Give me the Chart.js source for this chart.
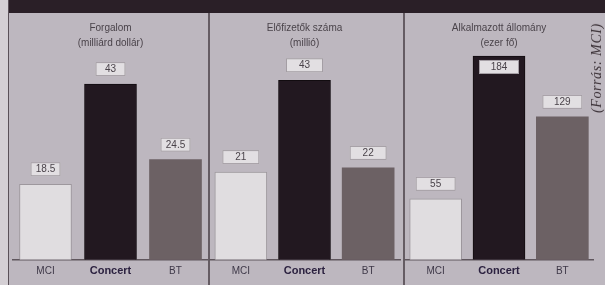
<!DOCTYPE html>
<html>
<head>
<meta charset="utf-8">
<script src="https://cdn.jsdelivr.net/npm/chart.js@4"></script>
<style>
  html, body { margin: 0; padding: 0; }
  body { width: 605px; height: 285px; background: #bdb7bf; position: relative; overflow: hidden; }
  .strip { position: absolute; left: 0; top: 0; width: 8px; height: 285px; background: #d4cfd4; border-right: 1.5px solid #5a5058; }
  .band { position: absolute; left: 9px; top: 0; width: 596px; height: 13px; background: #2a1f27; }
  .panel { position: absolute; top: 13px; height: 272px; }
  .divider { position: absolute; top: 13px; width: 1.5px; height: 272px; background: #655c63; }
  .source { position: absolute; left: 597px; top: 68px; transform: translate(-50%, -50%) rotate(-90deg);
            font: italic 14px "Liberation Serif", serif; letter-spacing: 0.6px; color: #3a3036; white-space: nowrap; }
</style>
</head>
<body>
<div class="strip"></div>
<div class="band"></div>
<div class="panel" style="left:9px;width:199px"><canvas id="c1"></canvas></div>
<div class="divider" style="left:208px"></div>
<div class="panel" style="left:209px;width:194px"><canvas id="c2"></canvas></div>
<div class="divider" style="left:403px"></div>
<div class="panel" style="left:404px;width:190px"><canvas id="c3"></canvas></div>
<div class="source">(Forrás: MCI)</div>
<script>
// companies
var companies = ["MCI", "Concert", "BT"];
// Forgalom (milliárd dollár)
var turnover = [18.5, 43, 24.5];
// Előfizetők száma (millió)
var subscribers = [21, 43, 22];
// Alkalmazott állomány (ezer fő)
var employees = [55, 184, 129];

var fontFamily = '"Liberation Sans", Arial, sans-serif';

// white number boxes above the bars (or inside the bar when there is no room)
var valueBoxes = {
  id: "valueBoxes",
  afterDatasetsDraw: function (chart, args, opts) {
    var ctx = chart.ctx;
    var meta = chart.getDatasetMeta(0);
    var data = chart.data.datasets[0].data;
    ctx.save();
    ctx.font = "10px " + fontFamily;
    ctx.textAlign = "center";
    ctx.textBaseline = "middle";
    meta.data.forEach(function (bar, i) {
      var w = opts.boxWidth, h = 14, gap = 8;
      var top = bar.y - gap - h;
      if (top < chart.chartArea.top) top = bar.y + 4;
      ctx.fillStyle = "#e2dfe2";
      ctx.strokeStyle = "#a49ea4";
      ctx.lineWidth = 1;
      ctx.fillRect(bar.x - w / 2, top, w, h);
      ctx.strokeRect(bar.x - w / 2 + 0.5, top + 0.5, w - 1, h - 1);
      ctx.fillStyle = "#4a434a";
      ctx.fillText(String(data[i]), bar.x, top + h / 2 + 0.5);
    });
    ctx.restore();
  }
};

function makePanel(id, title, values, yMax, boxWidth, padLeft, padRight) {
  new Chart(document.getElementById(id), {
    type: "bar",
    data: {
      labels: companies,
      datasets: [{
        data: values,
        backgroundColor: ["#e0dde0", "#221820", "#6c6164"],
        borderColor: ["#9d979d", "#120c10", "#6c6164"],
        borderWidth: [1, 1, 0],
        borderSkipped: "bottom",
        barThickness: 52
      }]
    },
    options: {
      responsive: true,
      maintainAspectRatio: false,
      animation: false,
      layout: { padding: { top: 0, bottom: 2, left: padLeft, right: padRight } },
      plugins: {
        legend: { display: false },
        tooltip: { enabled: false },
        title: {
          display: true,
          text: title,
          color: "#4a434a",
          font: { family: fontFamily, size: 10, weight: "normal", lineHeight: 1.5 },
          padding: { top: 8, bottom: 0 }
        },
        valueBoxes: { boxWidth: boxWidth }
      },
      scales: {
        x: {
          grid: { display: false, drawTicks: false },
          border: { display: true, color: "#5f565d", width: 1.5 },
          ticks: {
            padding: 5,
            color: function (c) { return c.index === 1 ? "#2c2240" : "#3e3848"; },
            font: function (c) {
              return { family: fontFamily, size: c.index === 1 ? 11 : 10, weight: c.index === 1 ? "bold" : "normal" };
            }
          }
        },
        y: { display: false, min: 0, max: yMax }
      }
    },
    plugins: [valueBoxes]
  });
}

makePanel("c1", ["Forgalom", "(milliárd dollár)"], turnover, 51.1, 30, 4, 0);
makePanel("c2", ["Előfizetők száma", "(millió)"], subscribers, 50, 37, 0, 3);
makePanel("c3", ["Alkalmazott állomány", "(ezer fő)"], employees, 188.5, 40, 0, 0);
</script>
</body>
</html>
